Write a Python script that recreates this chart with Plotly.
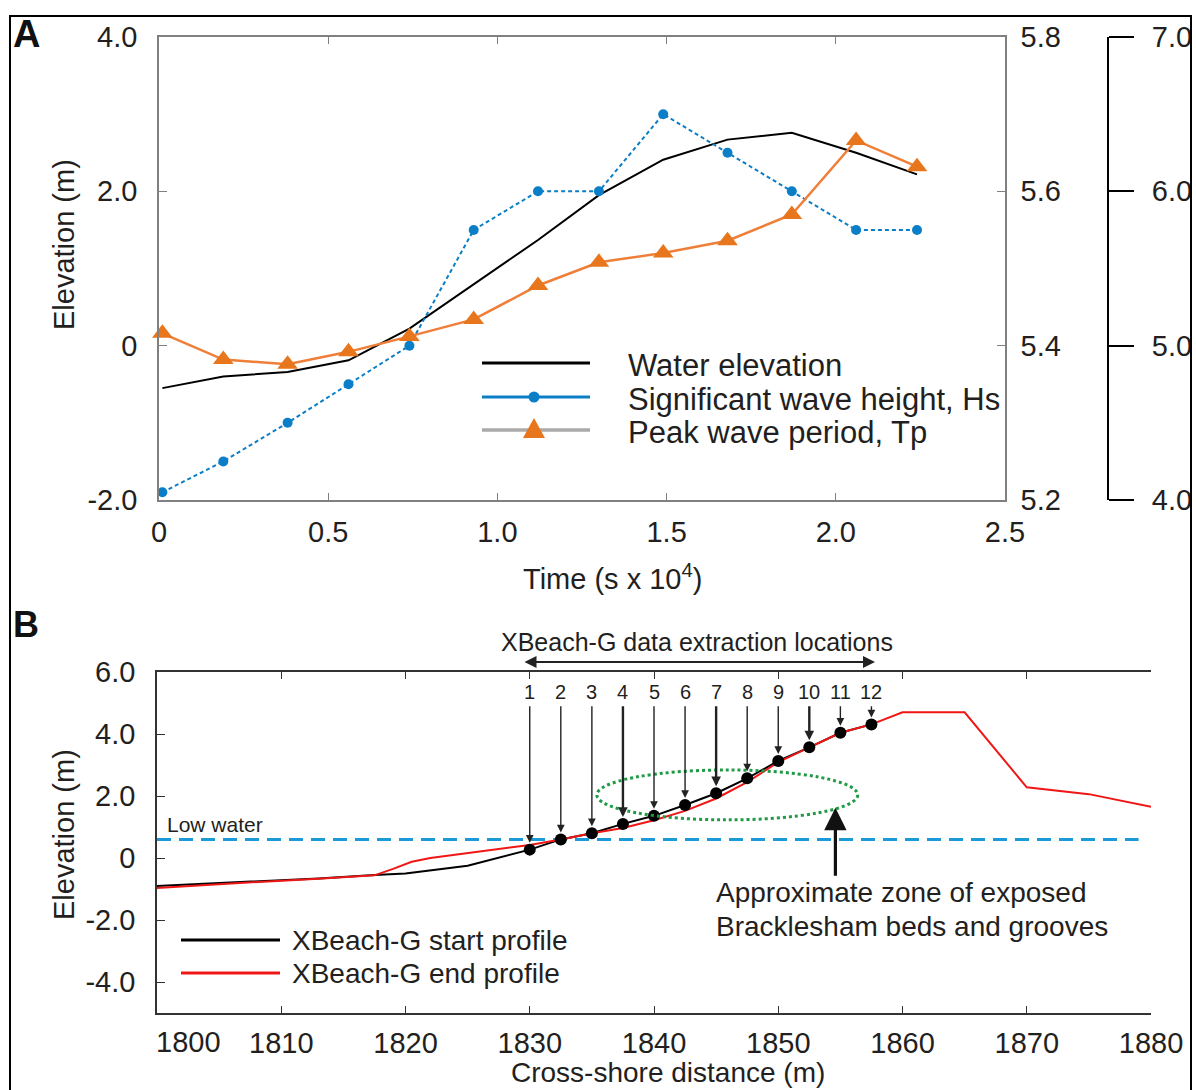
import plotly.graph_objects as go

# Figure fills the whole 1196x1090 page; margins are fixed (no auto-expansion)
W, H = 1196, 1090

# ---------------- Panel A: storm forcing time series ----------------
time_1e4s = [0.01, 0.19, 0.38, 0.56, 0.74, 0.93, 1.12, 1.30, 1.49, 1.68, 1.87, 2.06, 2.24]
water_elev = [-0.55, -0.40, -0.34, -0.19, 0.22, 0.80, 1.37, 1.95, 2.41, 2.67, 2.76, 2.50, 2.22]
hs = [5.21, 5.25, 5.30, 5.35, 5.40, 5.55, 5.60, 5.60, 5.70, 5.65, 5.60, 5.55, 5.55]
tp = [5.08, 4.91, 4.88, 4.96, 5.06, 5.17, 5.39, 5.54, 5.60, 5.68, 5.85, 6.33, 6.16]

time_ticks = [0, 0.5, 1.0, 1.5, 2.0, 2.5]
time_ticktext = ["0", "0.5", "1.0", "1.5", "2.0", "2.5"]
elev_a_ticks = [-2, 0, 2, 4]
elev_a_ticktext = ["-2.0", "0", "2.0", "4.0"]
hs_ticks = [5.2, 5.4, 5.6, 5.8]
hs_ticktext = ["5.2", "5.4", "5.6", "5.8"]
tp_ticks = [4, 5, 6, 7]
tp_ticktext = ["4.0", "5.0", "6.0", "7.0"]

# ---------------- Panel B: cross-shore profiles ----------------
dist_start = [1800, 1806, 1813, 1817.5, 1820, 1825, 1830, 1832.5, 1835, 1837.5,
              1840, 1842.5, 1845, 1847.5, 1850, 1852.5, 1855, 1857.5]
elev_start = [-0.90, -0.80, -0.66, -0.55, -0.50, -0.25, 0.27, 0.60, 0.80, 1.10,
              1.36, 1.71, 2.09, 2.57, 3.13, 3.57, 4.04, 4.31]
dist_end = [1800, 1806, 1813, 1817.5, 1819, 1820.5, 1822, 1824.5, 1830, 1832.5,
            1835, 1837.5, 1840, 1842.5, 1845, 1847.5, 1850, 1852.5, 1855, 1857.5,
            1860, 1865, 1870, 1875, 1880]
elev_end = [-0.97, -0.82, -0.67, -0.56, -0.35, -0.12, 0.00, 0.13, 0.42, 0.60,
            0.80, 0.97, 1.22, 1.52, 1.92, 2.45, 3.09, 3.57, 4.04, 4.31,
            4.70, 4.70, 2.28, 2.06, 1.65]

loc_id = ["1", "2", "3", "4", "5", "6", "7", "8", "9", "10", "11", "12"]
loc_dist = [1830, 1832.5, 1835, 1837.5, 1840, 1842.5, 1845, 1847.5, 1850, 1852.5, 1855, 1857.5]
loc_elev = [0.27, 0.60, 0.80, 1.10, 1.36, 1.71, 2.09, 2.57, 3.13, 3.57, 4.04, 4.31]
low_water = 0.60

zone_dist = [1835.4, 1856.4]
zone_elev = [1.23, 2.84]

dist_ticks = [1800, 1810, 1820, 1830, 1840, 1850, 1860, 1870, 1880]
dist_ticktext = ["1800", "1810", "1820", "1830", "1840", "1850", "1860", "1870", "1880"]
elev_b_ticks = [-4, -2, 0, 2, 4, 6]
elev_b_ticktext = ["-4.0", "-2.0", "0", "2.0", "4.0", "6.0"]

FONT = "Liberation Sans, Arial, Helvetica, sans-serif"
TXT = "#231f20"
BLUE = "#0a7ec6"
ORANGE_LINE = "#ef7f38"
ORANGE_MARK = "#e8761c"
RED = "#f01616"
LOWBLUE = "#1c9ad8"
GREEN = "#1f9a45"
GRAY_AX = "#808080"
DARK_AX = "#333333"


def fx(p):
    """pixel column -> paper x"""
    return p / W


def fy(p):
    """pixel row -> paper y"""
    return 1 - p / H


def label(x, y, text, size=28, xanchor="center", yanchor="middle", **kw):
    d = dict(xref="paper", yref="paper", x=fx(x), y=fy(y), text=text,
             showarrow=False, xanchor=xanchor, yanchor=yanchor,
             font=dict(family=FONT, size=size, color=kw.pop("color", TXT)))
    d.update(kw)
    return d


fig = go.Figure()

# Panel A traces
fig.add_trace(go.Scatter(x=time_1e4s, y=water_elev, mode="lines",
                         line=dict(color="black", width=2), xaxis="x", yaxis="y"))
fig.add_trace(go.Scatter(x=time_1e4s, y=hs, mode="lines+markers",
                         line=dict(color=BLUE, width=2, dash="4px,3px"),
                         marker=dict(color=BLUE, size=10, symbol="circle"),
                         xaxis="x", yaxis="y2", cliponaxis=False))
fig.add_trace(go.Scatter(x=time_1e4s, y=tp, mode="lines+markers",
                         line=dict(color=ORANGE_LINE, width=2.5),
                         marker=dict(color=ORANGE_MARK, size=18, symbol="triangle-up"),
                         xaxis="x", yaxis="y3", cliponaxis=False))

# Panel B traces
fig.add_trace(go.Scatter(x=dist_start, y=elev_start, mode="lines",
                         line=dict(color="black", width=2), xaxis="x2", yaxis="y4"))
fig.add_trace(go.Scatter(x=dist_end, y=elev_end, mode="lines",
                         line=dict(color=RED, width=2), xaxis="x2", yaxis="y4"))
fig.add_trace(go.Scatter(x=loc_dist, y=loc_elev, mode="markers",
                         marker=dict(color="black", size=12), xaxis="x2", yaxis="y4"))

tickfont = dict(family=FONT, size=29, color=TXT)

fig.update_layout(
    width=W, height=H, margin=dict(l=0, r=0, t=0, b=0, pad=0, autoexpand=False),
    paper_bgcolor="white", plot_bgcolor="white", showlegend=False,
    font=dict(family=FONT, size=28, color=TXT),
    xaxis=dict(domain=[fx(159), fx(1005)], range=[0, 2.5], anchor="y",
               tickvals=time_ticks, ticktext=time_ticktext, tickfont=tickfont,
               ticks="inside", ticklen=7, tickcolor=GRAY_AX, tickwidth=1.2,
               showline=True, linecolor=GRAY_AX, linewidth=1.5, mirror="ticks",
               showgrid=False, zeroline=False, ticklabelstandoff=5, automargin=False),
    yaxis=dict(domain=[fy(500), fy(37)], range=[-2, 4], anchor="x",
               tickvals=elev_a_ticks, ticktext=elev_a_ticktext, tickfont=tickfont,
               ticks="inside", ticklen=8, tickcolor=GRAY_AX, tickwidth=1.2,
               showline=True, linecolor=GRAY_AX, linewidth=1.5,
               showgrid=False, zeroline=False, ticklabelstandoff=14, automargin=False),
    yaxis2=dict(overlaying="y", side="right", anchor="x", range=[5.2, 5.8],
                tickvals=hs_ticks, ticktext=hs_ticktext, tickfont=tickfont,
                ticks="inside", ticklen=8, tickcolor=GRAY_AX, tickwidth=1.2,
                showline=True, linecolor=GRAY_AX, linewidth=1.5,
                showgrid=False, zeroline=False, ticklabelstandoff=8, automargin=False),
    yaxis3=dict(overlaying="y", side="right", anchor="free", position=fx(1108),
                range=[4, 7], tickvals=tp_ticks, ticktext=tp_ticktext, tickfont=tickfont,
                ticks="outside", ticklen=25, tickcolor="black", tickwidth=1.5,
                showline=True, linecolor="black", linewidth=2,
                showgrid=False, zeroline=False, ticklabelstandoff=12, automargin=False),
    # the 1800 label is drawn separately, nudged inside the frame
    xaxis2=dict(domain=[fx(157), fx(1151)], range=[1800, 1880], anchor="y4",
                tickvals=dist_ticks[1:], ticktext=dist_ticktext[1:], tickfont=tickfont,
                ticks="inside", ticklen=7, tickcolor=DARK_AX, tickwidth=1.2,
                showline=True, linecolor=DARK_AX, linewidth=1.5, mirror="ticks",
                showgrid=False, zeroline=False, ticklabelstandoff=3, automargin=False),
    yaxis4=dict(domain=[fy(1013), fy(672)], range=[-5, 6], anchor="x2",
                tickvals=elev_b_ticks, ticktext=elev_b_ticktext, tickfont=tickfont,
                ticks="inside", ticklen=8, tickcolor=DARK_AX, tickwidth=1.2,
                showline=True, linecolor=DARK_AX, linewidth=1.5,
                showgrid=False, zeroline=False, ticklabelstandoff=14, automargin=False),
    yaxis5=dict(overlaying="y4", side="right", anchor="x2", range=[-5, 6],
                tickvals=[-3, -2, -1, 1, 2, 3, 4], showticklabels=False,
                ticks="inside", ticklen=9, tickcolor=DARK_AX, tickwidth=1.2,
                showline=True, linecolor=DARK_AX, linewidth=1.5,
                showgrid=False, zeroline=False, automargin=False),
)

shapes = []
annotations = []

# Figure frame
shapes.append(dict(type="rect", xref="paper", yref="paper",
                   x0=fx(10), x1=fx(1191), y0=-0.05, y1=fy(16),
                   line=dict(color="black", width=2), layer="above"))

# Low-water level and zone of exposed beds
shapes.append(dict(type="line", xref="x2", yref="y4", x0=dist_ticks[0], x1=1879,
                   y0=low_water, y1=low_water,
                   line=dict(color=LOWBLUE, width=3, dash="14px,8px"), layer="below"))
shapes.append(dict(type="circle", xref="x2", yref="y4",
                   x0=zone_dist[0], x1=zone_dist[1], y0=zone_elev[0], y1=zone_elev[1],
                   line=dict(color=GREEN, width=3, dash="dot")))

# Panel A legend
leg_a_rows = [(363, "Water elevation"), (397, "Significant wave height, Hs"),
              (430, "Peak wave period, Tp")]
leg_a_colors = ["black", BLUE, "#aaaaaa"]
for (yy, text), col in zip(leg_a_rows, leg_a_colors):
    shapes.append(dict(type="line", xref="paper", yref="paper",
                       x0=fx(482), x1=fx(590), y0=fy(yy), y1=fy(yy),
                       line=dict(color=col, width=3.5 if col == "#aaaaaa" else 3)))
    annotations.append(label(626, yy + 2, text, size=31, xanchor="left"))
# legend symbols
cx, cy, r = 534, 397, 5.5
shapes.append(dict(type="circle", xref="paper", yref="paper",
                   x0=fx(cx - r), x1=fx(cx + r), y0=fy(cy + r), y1=fy(cy - r),
                   fillcolor=BLUE, line=dict(color=BLUE, width=0)))
tx, ty = 534, 430
tri = "M {:.5f} {:.5f} L {:.5f} {:.5f} L {:.5f} {:.5f} Z".format(
    fx(tx - 11), fy(ty + 8), fx(tx + 11), fy(ty + 8), fx(tx), fy(ty - 12))
shapes.append(dict(type="path", xref="paper", yref="paper", path=tri,
                   fillcolor=ORANGE_MARK, line=dict(color=ORANGE_MARK, width=0)))

# Panel B legend
leg_b_rows = [(940, "XBeach-G start profile", "black"), (973, "XBeach-G end profile", RED)]
for yy, text, col in leg_b_rows:
    shapes.append(dict(type="line", xref="paper", yref="paper",
                       x0=fx(181), x1=fx(280), y0=fy(yy), y1=fy(yy),
                       line=dict(color=col, width=3)))
    annotations.append(label(290, yy, text, size=28, xanchor="left"))

# Panel letters
annotations.append(label(11, 34, "<b>A</b>", size=38, xanchor="left", color="#111111"))
annotations.append(label(11, 624, "<b>B</b>", size=36, xanchor="left", color="#111111"))

# Axis titles
annotations.append(label(64, 245, "Elevation (m)", size=29, textangle=-90))
annotations.append(label(64, 835, "Elevation (m)", size=29, textangle=-90))
annotations.append(label(612, 577, "Time (s x 10<sup>4</sup>)", size=29))
annotations.append(label(668, 1072, "Cross-shore distance (m)", size=28))
# first distance tick label, set slightly inside the frame
annotations.append(label(188, 1042, dist_ticktext[0], size=29))

# Panel B text labels
annotations.append(label(165, 824, "Low water", size=21, xanchor="left"))
annotations.append(label(697, 642, "XBeach-G data extraction locations", size=25))
annotations.append(label(714, 892, "Approximate zone of exposed", size=28, xanchor="left"))
annotations.append(label(714, 926, "Bracklesham beds and grooves", size=28, xanchor="left"))

# Span of extraction locations (double-headed arrow above the plot frame)
span_left, span_right, span_row = 523, 875, 662
annotations.append(dict(xref="paper", yref="paper", x=fx(span_right), y=fy(span_row),
                        ax=span_left - span_right, ay=0,
                        text="", showarrow=True, arrowside="end+start",
                        arrowhead=2, startarrowhead=2, arrowsize=1.2, startarrowsize=1.2,
                        arrowwidth=2, arrowcolor="#222222"))

# Numbered extraction points with arrows
thick = {"4", "7", "10"}
for lid, d, e in zip(loc_id, loc_dist, loc_elev):
    annotations.append(dict(xref="x2", yref="y4", x=d, y=5.35, showarrow=False,
                            xanchor="center", yanchor="middle",
                            text=lid, font=dict(family=FONT, size=20, color=TXT)))
    annotations.append(dict(xref="x2", yref="y4", axref="x2", ayref="y4",
                            x=d, y=e, ax=d, ay=4.94, text="", showarrow=True,
                            arrowhead=2, arrowsize=1.1 if lid not in thick else 0.8,
                            arrowwidth=1.4 if lid not in thick else 2.4,
                            standoff=7, arrowcolor="#222222"))

# Arrow pointing to the exposed-bed zone
annotations.append(dict(xref="x2", yref="y4", axref="x2", ayref="y4",
                        x=1854.6, y=1.62, ax=1854.6, ay=-0.62, text="", showarrow=True,
                        arrowhead=2, arrowsize=1.4, arrowwidth=3.2, arrowcolor="#111111"))

fig.update_layout(shapes=shapes, annotations=annotations)
fig.write_html("out.html")
